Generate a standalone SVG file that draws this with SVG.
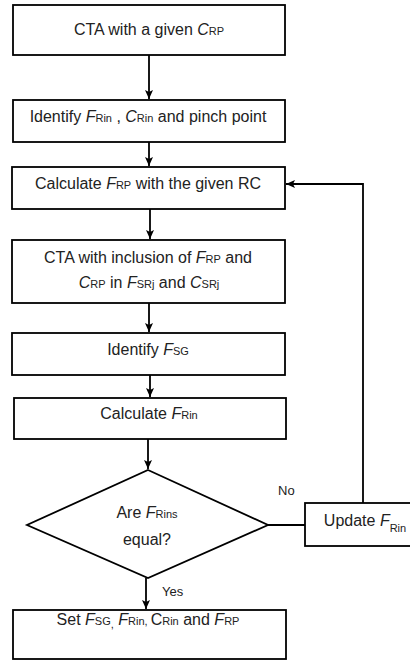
<svg xmlns="http://www.w3.org/2000/svg" width="410" height="660" viewBox="0 0 410 660">
<style>
.box{fill:#fff;stroke:#000;stroke-width:1.8}
.ln{fill:none;stroke:#000;stroke-width:1.8}
text{font-family:"Liberation Sans",Arial,sans-serif;font-size:16px;fill:#222;text-anchor:middle}
.i{font-style:italic}
.s{font-size:11px}
.lbl{font-size:13px;text-anchor:start}
</style>
<defs>
<marker id="ah" markerWidth="10" markerHeight="10" refX="9" refY="5" orient="auto" markerUnits="userSpaceOnUse">
<path d="M0,1 L9,5 L0,9 L2,5 Z" fill="#000"/>
</marker>
</defs>
<rect width="410" height="660" fill="#fff"/>
<g id="connectors">
<line class="ln" x1="149" y1="55" x2="149" y2="99" marker-end="url(#ah)"/>
<line class="ln" x1="149" y1="142" x2="149" y2="166" marker-end="url(#ah)"/>
<line class="ln" x1="150" y1="209" x2="150" y2="239" marker-end="url(#ah)"/>
<line class="ln" x1="149" y1="303" x2="149" y2="332" marker-end="url(#ah)"/>
<line class="ln" x1="150" y1="375" x2="150" y2="397" marker-end="url(#ah)"/>
<line class="ln" x1="148" y1="439" x2="148" y2="469" marker-end="url(#ah)"/>
<line class="ln" x1="146" y1="578" x2="146" y2="609" marker-end="url(#ah)"/>
<line class="ln" x1="268" y1="525" x2="305" y2="525"/>
<polyline class="ln" points="363,503 363,184 286,184" marker-end="url(#ah)"/>
<text class="lbl" x="278" y="495">No</text>
<text class="lbl" x="162" y="596">Yes</text>
</g>
<g id="n1">
<rect class="box" x="13" y="5" width="272" height="50"/>
<text x="149" y="35">CTA with a given <tspan class="i">C</tspan><tspan class="s">RP</tspan></text>
</g>
<g id="n2">
<rect class="box" x="13" y="100" width="272" height="42"/>
<text x="148" y="122">Identify <tspan class="i">F</tspan><tspan class="s">Rin</tspan> , <tspan class="i">C</tspan><tspan class="s">Rin</tspan> and pinch point</text>
</g>
<g id="n3">
<rect class="box" x="12" y="167" width="273" height="42"/>
<text x="148" y="189">Calculate <tspan class="i">F</tspan><tspan class="s">RP</tspan> with the given RC</text>
</g>
<g id="n4">
<rect class="box" x="12" y="240" width="273" height="63"/>
<text x="148" y="263">CTA with inclusion of <tspan class="i">F</tspan><tspan class="s">RP</tspan> and</text>
<text x="149" y="288"><tspan class="i">C</tspan><tspan class="s">RP</tspan> in <tspan class="i">F</tspan><tspan class="s">SRj</tspan> and <tspan class="i">C</tspan><tspan class="s">SRj</tspan></text>
</g>
<g id="n5">
<rect class="box" x="12" y="333" width="273" height="42"/>
<text x="148" y="355">Identify <tspan class="i">F</tspan><tspan class="s">SG</tspan></text>
</g>
<g id="n6">
<rect class="box" x="14" y="398" width="272" height="41"/>
<text x="149" y="419">Calculate <tspan class="i">F</tspan><tspan class="s">Rin</tspan></text>
</g>
<g id="n7">
<polygon class="box" points="148,470 268,525 148,578 27,525"/>
<text x="147" y="518">Are <tspan class="i">F</tspan><tspan class="s">Rins</tspan></text>
<text x="147" y="545">equal?</text>
</g>
<g id="n8">
<rect class="box" x="305" y="503" width="110" height="43"/>
<text x="365" y="526">Update <tspan class="i">F</tspan><tspan class="s" dy="6">Rin</tspan></text>
</g>
<g id="n9">
<rect class="box" x="13" y="610" width="273" height="49"/>
<text x="148" y="625">Set  <tspan class="i">F</tspan><tspan class="s">SG</tspan><tspan class="s" dy="3">,</tspan><tspan dy="-3"> </tspan><tspan class="i">F</tspan><tspan class="s">Rin, </tspan>C<tspan class="s">Rin</tspan> and <tspan class="i">F</tspan><tspan class="s">RP</tspan></text>
</g>
</svg>
